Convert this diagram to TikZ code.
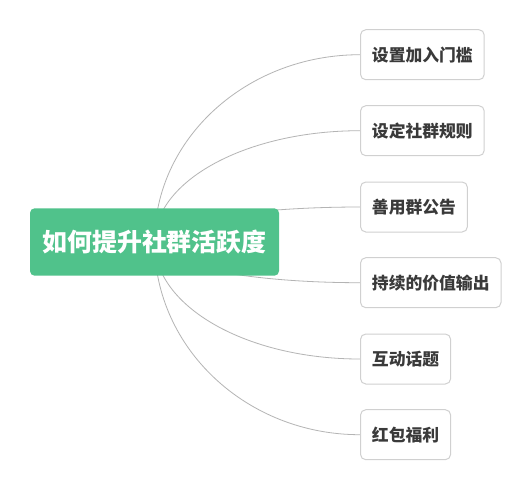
\documentclass[tikz,border=0pt]{standalone}
\usepackage{fontspec}
\newfontfamily\cjk{Noto Sans CJK SC}
\usetikzlibrary{calc,backgrounds}
\definecolor{rootgreen}{RGB}{80,194,139}
\definecolor{leafborder}{RGB}{208,208,208}
\definecolor{leaftext}{RGB}{58,58,58}
\definecolor{linkgray}{RGB}{180,180,180}
\begin{document}
\begin{tikzpicture}[x=0.75pt,y=-0.75pt,
  rootbox/.style={fill=rootgreen, rounded corners=3.5pt, text=white,
    font=\cjk\bfseries\fontsize{18.7}{22}\selectfont,
    minimum width=186.75pt, minimum height=50.6pt, inner sep=0pt},
  leaf/.style={draw=leafborder, line width=0.75pt, fill=white, rounded corners=4pt,
    text=leaftext, font=\cjk\bfseries\fontsize{12.6}{15}\selectfont,
    minimum height=37.5pt, inner xsep=8.6pt, inner ysep=0pt, anchor=west},
  link/.style={draw=linkgray, line width=0.6pt}]
\useasboundingbox (0,0) rectangle (531,490);
\node[rootbox] (root) at (154.5,242) {如何提升社群活跃度};
\node[leaf] (c1) at (360,54.7) {设置加入门槛};
\node[leaf] (c2) at (360,130.7) {设定社群规则};
\node[leaf] (c3) at (360,207) {善用群公告};
\node[leaf] (c4) at (360,282.7) {持续的价值输出};
\node[leaf] (c5) at (360,359) {互动话题};
\node[leaf] (c6) at (360,434.7) {红包福利};
\begin{scope}[on background layer]
\fill[white] (0,0) rectangle (531,490);
\foreach \c in {c1,c2,c3,c4,c5,c6}
  \draw[link] (root.center) .. controls ($(root.center)!0.552!(root.center |- \c.west)$) and ($(\c.west)!0.552!(root.center |- \c.west)$) .. (\c.west);
\end{scope}
\end{tikzpicture}
\end{document}
